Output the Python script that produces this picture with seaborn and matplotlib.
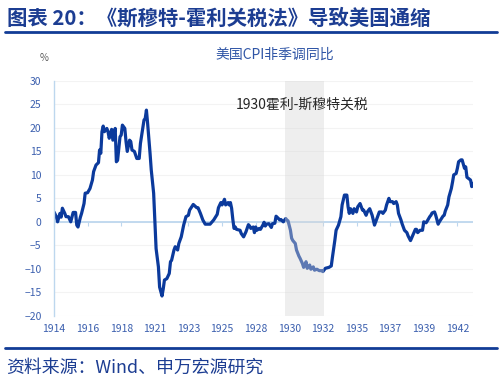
import matplotlib
matplotlib.use("Agg")
import matplotlib.pyplot as plt
import matplotlib.dates as mdates
from matplotlib.lines import Line2D
import seaborn as sns
import pandas as pd

# month offsets from Jan 1914 and CPI yoy (%)
month_idx = [0, 2, 3, 5, 6, 7, 9, 10, 12, 14, 16, 18, 19, 20, 22, 23, 25, 26, 28, 30,
             32, 33, 35, 37, 38, 39, 40, 41, 42, 44, 45, 46, 48, 49, 51, 52, 53, 55, 56, 57,
             59, 60, 61, 63, 64, 65, 67, 69, 71, 72, 74, 75, 76, 77, 78, 80, 81, 83, 84, 85,
             87, 88, 90, 91, 92, 94, 96, 97, 98, 100, 101, 103, 104, 106, 108, 110, 112, 113, 116, 119,
             120, 122, 124, 126, 130, 133, 136, 137, 139, 140, 142, 143, 145, 146, 147, 148, 149, 150, 151, 152,
             155, 156, 158, 160, 162, 163, 164, 166, 167, 168, 169, 171, 172, 174, 175, 176, 177, 179, 181, 182,
             184, 185, 187, 188, 189, 191, 193, 194, 195, 197, 198, 199, 201, 202, 204, 205, 207, 208, 209, 210,
             211, 213, 214, 216, 217, 219, 221, 223, 224, 226, 229, 231, 232, 234, 235, 237, 239, 240, 242, 244,
             245, 246, 247, 249, 250, 252, 253, 255, 257, 258, 260, 261, 263, 265, 266, 267, 269, 271, 273, 274,
             276, 277, 279, 280, 282, 283, 285, 286, 287, 289, 290, 292, 294, 295, 297, 299, 301, 302, 303, 305,
             307, 308, 310, 311, 313, 314, 315, 317, 318, 320, 321, 322, 324, 325, 326, 328, 329, 331, 332, 333,
             335, 336, 337, 339, 340, 342, 343, 344, 345, 347, 348, 349]
cpi_yoy = [2.1, 1.1, 0.0, 1.8, 1.0, 2.9, 1.8, 1.1, 1.1, 0.0, 2.0, 2.0, -0.7, -1.1, 1.0, 1.8, 3.9, 6.1, 6.2, 7.1,
           8.9, 10.7, 12.1, 12.6, 15.3, 14.6, 19.2, 20.4, 19.2, 19.9, 19.2, 17.8, 19.7, 17.4, 19.9, 12.8, 13.1, 18.1, 18.5, 20.6,
           19.9, 17.1, 15.0, 17.4, 17.1, 15.3, 15.0, 13.5, 13.5, 16.7, 19.9, 21.7, 22.0, 23.8, 21.0, 14.6, 11.1, 6.1, 0.0, -5.7,
           -9.6, -13.9, -15.8, -14.3, -12.4, -12.1, -11.0, -8.5, -8.2, -6.0, -5.3, -6.0, -4.6, -3.2, -0.7, 1.1, 1.4, 2.5, 3.7, 3.0,
           3.0, 1.8, 0.4, -0.5, -0.5, 0.4, 1.6, 3.0, 4.1, 3.6, 4.8, 3.6, 4.1, 3.6, 4.1, 2.9, 0.5, -1.4, -1.1, -1.6,
           -1.8, -2.5, -3.2, -2.1, -0.6, -0.9, -1.4, -1.1, -2.3, -1.1, -1.8, -1.4, -1.6, -0.7, -0.1, -0.9, -0.5, -0.4, -1.2, -0.4,
           -0.3, 1.2, 0.7, 0.4, 0.5, 0.0, 0.7, 0.4, 0.2, -1.8, -3.5, -4.0, -4.6, -6.0, -7.3, -7.8, -8.9, -9.7, -9.2, -8.5,
           -9.9, -9.2, -10.1, -9.6, -10.3, -10.1, -10.4, -10.4, -10.6, -9.9, -9.7, -9.4, -7.5, -3.9, -1.8, -0.7, 1.1, 3.6, 5.7, 5.7,
           3.2, 1.8, 2.8, 1.8, 2.8, 2.1, 3.2, 3.9, 2.5, 2.5, 1.4, 2.1, 2.8, 1.4, 0.4, -0.7, 0.7, 2.1, 2.1, 1.8,
           2.5, 3.6, 5.0, 4.3, 4.3, 3.9, 4.3, 3.6, 1.8, 0.4, -0.4, -1.8, -2.3, -3.0, -4.0, -2.8, -1.6, -1.6, -2.3, -1.8,
           -1.8, 0.0, -0.2, 0.2, 1.1, 1.4, 1.9, 2.1, 1.4, -0.5, 0.0, 0.4, 1.2, 1.4, 2.3, 3.6, 5.3, 7.1, 8.5, 10.0,
           10.3, 11.4, 12.8, 13.2, 13.2, 11.4, 11.7, 9.5, 9.3, 8.9, 7.5, 8.2]
tick_labels = ["1914", "1916", "1918", "1921", "1923", "1925", "1928",
               "1930", "1932", "1935", "1937", "1939", "1942"]
tariff_start, tariff_end = "1930-01-01", "1932-10-01"

start = pd.Timestamp("1914-01-01")
df = pd.DataFrame({
    "date": [start + pd.DateOffset(months=m) for m in month_idx],
    "cpi": cpi_yoy,
})
tick_dates = pd.date_range(start, periods=len(tick_labels), freq="28MS")

sns.set_style("white")
plt.rcParams["font.family"] = ["Noto Sans CJK SC", "DejaVu Sans"]

blue = "#0b3a9c"
light = "#bdd7ee"
tick_col = "#3b5fae"

fig = plt.figure(figsize=(5.02, 3.80), dpi=100)
ax = fig.add_axes([0.1076, 0.1692, 0.8346, 0.6176])

for v in range(-20, 31, 5):
    ax.axhline(v, color="#f3f3f3", lw=0.8, zorder=0)
ax.axhline(0, color=light, lw=1.3, zorder=1)

sns.lineplot(data=df, x="date", y="cpi", ax=ax, color=blue, lw=2.3, zorder=2)
ax.axvspan(pd.Timestamp(tariff_start), pd.Timestamp(tariff_end),
           color="#d6d6d6", alpha=0.4, lw=0, zorder=3)

ax.set_xlim(df["date"].iloc[0], df["date"].iloc[-1])
ax.set_ylim(-20, 30)
ax.set_yticks(range(-20, 31, 5))
ax.set_xticks(tick_dates)
ax.set_xticklabels(tick_labels)
ax.set_xlabel("")
ax.set_ylabel("")

for s in ["top", "right", "bottom"]:
    ax.spines[s].set_visible(False)
ax.spines["left"].set_color(light)
ax.spines["left"].set_linewidth(1.0)
ax.tick_params(axis="y", length=3, color=light, labelsize=7.5, labelcolor=tick_col, pad=6)
ax.tick_params(axis="x", length=0, labelsize=7.5, labelcolor=tick_col, pad=6)

# tick marks sitting on the zero line
sec = ax.secondary_xaxis(0.4)
sec.set_xticks(mdates.date2num(tick_dates))
sec.set_xticklabels([""] * len(tick_labels))
sec.tick_params(length=3, color=light, direction="out")
sec.spines["bottom"].set_visible(False)

ax.text(pd.Timestamp("1931-04-01"), 25, "1930霍利-斯穆特关税", ha="center", va="center",
        fontsize=10, color="#262626", zorder=4)

fig.text(0.014, 1 - 18 / 380, "图表 20：《斯穆特-霍利关税法》导致美国通缩",
         fontsize=14.7, fontweight="bold", color="#1c3d92", va="center", ha="left")
fig.add_artist(Line2D([0.01, 0.99], [1 - 32 / 380] * 2, transform=fig.transFigure,
                      color="#123c96", lw=2))
fig.text(275 / 502, 1 - 55 / 380, "美国CPI非季调同比", fontsize=10, color="#2f55a6",
         ha="center", va="center")
fig.text(44 / 502, 1 - 58 / 380, "%", fontsize=7, color="#595959", ha="center", va="center")

fig.add_artist(Line2D([0.01, 0.99], [1 - 347.7 / 380] * 2, transform=fig.transFigure,
                      color="#123c96", lw=2))
fig.text(0.012, 1 - 368 / 380, "资料来源：Wind、申万宏源研究", fontsize=12.9,
         color="#1c3d92", ha="left", va="center")

fig.savefig("out.png", dpi=100)
